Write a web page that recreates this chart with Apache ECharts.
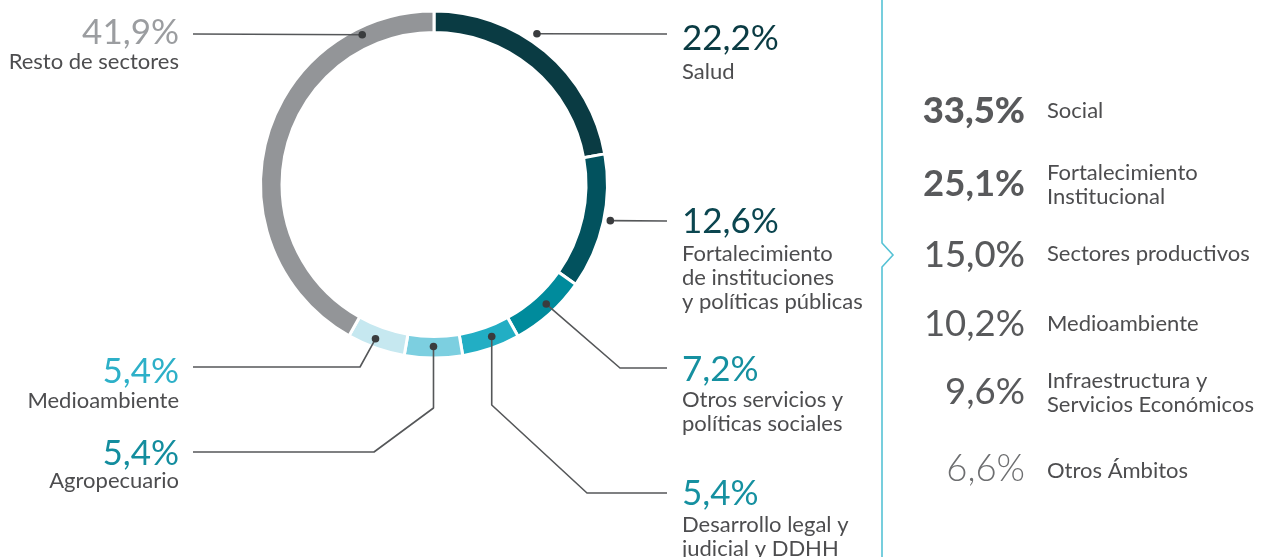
<!DOCTYPE html>
<html>
<head>
<meta charset="utf-8">
<script src="https://cdn.jsdelivr.net/npm/echarts@6/dist/echarts.min.js"></script>
<style>
  html, body { margin: 0; padding: 0; background: #fff; }
  #chart { width: 1268px; height: 557px; }
</style>
</head>
<body>
<div id="chart"></div>
<script>
// Sector breakdown (ring)
const sectors = [
  'Salud',
  'Fortalecimiento\nde instituciones\ny políticas públicas',
  'Otros servicios y\npolíticas sociales',
  'Desarrollo legal y\njudicial y DDHH',
  'Agropecuario',
  'Medioambiente',
  'Resto de sectores'
];
const shares = [22.2, 12.6, 7.2, 5.4, 5.4, 5.4, 41.9];

// Breakdown by area (right-hand list)
const areas = [
  'Social',
  'Fortalecimiento\nInstitucional',
  'Sectores productivos',
  'Medioambiente',
  'Infraestructura y\nServicios Económicos',
  'Otros Ámbitos'
];
const areaShares = [33.5, 25.1, 15.0, 10.2, 9.6, 6.6];

// ---- styling / layout ----
const FONT = 'Lato, "Noto Sans", sans-serif';
const ringColors = ['#0a3b43', '#02525e', '#008b9c', '#22aec4', '#7ccfe0', '#c6e8f0', '#939598'];
const valueColors = ['#0a3b43', '#0b4650', '#1590a0', '#1590a0', '#138d9e', '#2db0c8', '#9b9da0'];
const CX = 434, CY = 184.5;

// where each callout's dot sits (fraction along its slice, radius) and where its label goes
const callouts = [
  { at: 0.43, r: 182.5, path: [[667, 34]], x: 682, align: 'left', numY: 39, subY: 71.5 },
  { at: 0.48, r: 180, path: [[667, 221]], x: 682, align: 'left', numY: 222, subY: 253.5 },
  { at: 0.45, r: 164, path: [[620, 368], [667, 368]], x: 682, align: 'left', numY: 370, subY: 400 },
  { at: 0.42, r: 162.6, path: ['v405', [587, 493], [667, 493]], x: 682, align: 'left', numY: 494, subY: 525 },
  { at: 0.5, r: 162, path: ['v408', [374, 452], [193, 452]], x: 179, align: 'right', numY: 453.5, subY: 481 },
  { at: 0.56, r: 165, path: [[360, 367], [193, 367]], x: 179, align: 'right', numY: 371.5, subY: 401 },
  { at: 0.83, r: 166, path: [[193, 34]], x: 179, align: 'right', numY: 32.5, subY: 61.5 }
];

const areaWeights = [900, 700, 500, 400, 400, 300];
const areaColors = ['#58595b', '#58595b', '#58595b', '#58595b', '#58595b', '#6d6e70'];
const areaNumY = [111, 184, 255, 324, 392.5, 469.5];
const areaLabelY = [111, 173, 254, 324, 381, 471];

function pct(v) { return v.toFixed(1).replace('.', ',') + '%'; }

const chart = echarts.init(document.getElementById('chart'), null, { renderer: 'canvas' });

const graphics = [];

// callouts: dot at the slice angle, leader line, value and name
const total = shares.reduce((a, b) => a + b, 0);
let acc = 0;
shares.forEach((v, i) => {
  const c = callouts[i];
  const a0 = acc / total * Math.PI * 2;
  const a1 = (acc + v) / total * Math.PI * 2;
  acc += v;
  const ang = a0 + (a1 - a0) * c.at - Math.PI / 2;
  const dx = CX + c.r * Math.cos(ang);
  const dy = CY + c.r * Math.sin(ang);
  const pts = [[dx, dy]];
  c.path.forEach(p => {
    if (typeof p === 'string') pts.push([dx, parseFloat(p.slice(1))]);
    else pts.push(p);
  });
  graphics.push({
    type: 'polyline', silent: true, z: 100,
    shape: { points: pts },
    style: { stroke: '#555759', lineWidth: 1.6, fill: null, lineJoin: 'round' }
  });
  graphics.push({
    type: 'circle', silent: true, z: 101,
    shape: { cx: dx, cy: dy, r: 3.8 },
    style: { fill: '#3a3c3e' }
  });
  graphics.push({
    type: 'text', silent: true, z: 100, x: c.x, y: c.numY,
    style: {
      text: pct(v), fill: valueColors[i], fontSize: 35, fontFamily: FONT, fontWeight: 400,
      align: c.align, verticalAlign: 'middle'
    }
  });
  sectors[i].split('\n').forEach((line, k) => {
    graphics.push({
      type: 'text', silent: true, z: 100, x: c.x, y: c.subY + k * 24,
      style: {
        text: line, fill: '#4d4d4f', fontSize: 22, fontFamily: FONT, fontWeight: 400,
        align: c.align, verticalAlign: 'middle'
      }
    });
  });
});

// divider with chevron
graphics.push({
  type: 'polyline', silent: true, z: 100,
  shape: { points: [[882, -2], [882, 243], [893, 255], [882, 267], [882, 560]] },
  style: { stroke: '#55c2d5', lineWidth: 1.6, fill: null }
});

// area list
areaShares.forEach((v, i) => {
  graphics.push({
    type: 'text', silent: true, z: 100, x: 1025, y: areaNumY[i],
    style: {
      text: pct(v), fill: areaColors[i], fontSize: 36.5, fontFamily: FONT, fontWeight: areaWeights[i],
      align: 'right', verticalAlign: 'middle'
    }
  });
  const lines = areas[i].split('\n');
  lines.forEach((line, k) => {
    graphics.push({
      type: 'text', silent: true, z: 100, x: 1047, y: areaLabelY[i] + k * 23.5,
      style: {
        text: line, fill: '#4d4d4f', fontSize: 22, fontFamily: FONT, fontWeight: 400,
        align: 'left', verticalAlign: 'middle'
      }
    });
  });
});

chart.setOption({
  animation: false,
  backgroundColor: '#ffffff',
  series: [{
    type: 'pie',
    silent: true,
    z: 2,
    center: [CX, CY],
    radius: [152, 173.5],
    startAngle: 90,
    clockwise: true,
    label: { show: false },
    labelLine: { show: false },
    itemStyle: { borderColor: '#ffffff', borderWidth: 3 },
    data: sectors.map((name, i) => ({
      name: name, value: shares[i], itemStyle: { color: ringColors[i] }
    }))
  }],
  graphic: graphics
});
</script>
</body>
</html>
